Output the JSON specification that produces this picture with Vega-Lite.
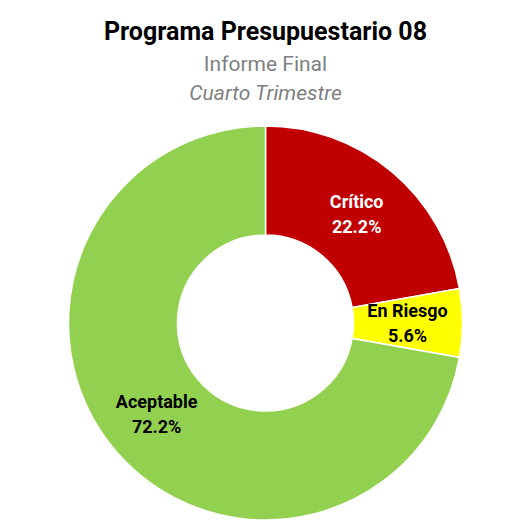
{
  "$schema": "https://vega.github.io/schema/vega-lite/v6.json",
  "background": "white",
  "padding": {"left": 5, "right": 5, "top": 20, "bottom": 5},
  "title": {
    "text": "Programa Presupuestario 08",
    "subtitle": "Informe Final",
    "anchor": "middle",
    "font": "Roboto",
    "fontSize": 25,
    "fontWeight": "bold",
    "color": "#000000",
    "subtitleFont": "Roboto",
    "subtitleFontSize": 21,
    "subtitleColor": "#7f7f7f",
    "subtitlePadding": 9,
    "offset": 8
  },
  "spacing": 0,
  "data": {
    "values": [
      {"cat": "Crítico", "pct": 0.222, "orden": 1},
      {"cat": "En Riesgo", "pct": 0.056, "orden": 2},
      {"cat": "Aceptable", "pct": 0.722, "orden": 3}
    ]
  },
  "vconcat": [
    {
      "width": 521,
      "height": 394,
      "title": {
        "text": "Cuarto Trimestre",
        "anchor": "middle",
        "font": "Roboto",
        "fontSize": 21,
        "fontStyle": "italic",
        "fontWeight": "normal",
        "color": "#7f7f7f",
        "offset": 19
      },
      "encoding": {
        "theta": {"field": "pct", "type": "quantitative", "stack": true},
        "order": {"field": "orden", "type": "quantitative"}
      },
      "layer": [
        {
          "mark": {"type": "arc", "outerRadius": 197, "innerRadius": 88, "stroke": "white", "strokeWidth": 1.5},
          "encoding": {
            "color": {
              "field": "cat",
              "type": "nominal",
              "scale": {"domain": ["Crítico", "En Riesgo", "Aceptable"], "range": ["#C00000", "#FFFF00", "#92D050"]},
              "legend": null
            }
          }
        },
        {
          "mark": {"type": "text", "radius": 142, "dy": -11, "font": "Roboto", "fontSize": 18, "fontWeight": "bold"},
          "encoding": {
            "text": {"field": "cat", "type": "nominal"},
            "color": {"condition": {"test": "datum.cat === 'Crítico'", "value": "white"}, "value": "black"}
          }
        },
        {
          "mark": {"type": "text", "radius": 142, "dy": 14, "font": "Roboto", "fontSize": 18, "fontWeight": "bold"},
          "encoding": {
            "text": {"field": "pct", "type": "quantitative", "format": ".1%"},
            "color": {"condition": {"test": "datum.cat === 'Crítico'", "value": "white"}, "value": "black"}
          }
        }
      ]
    }
  ],
  "config": {"view": {"stroke": null}}
}
